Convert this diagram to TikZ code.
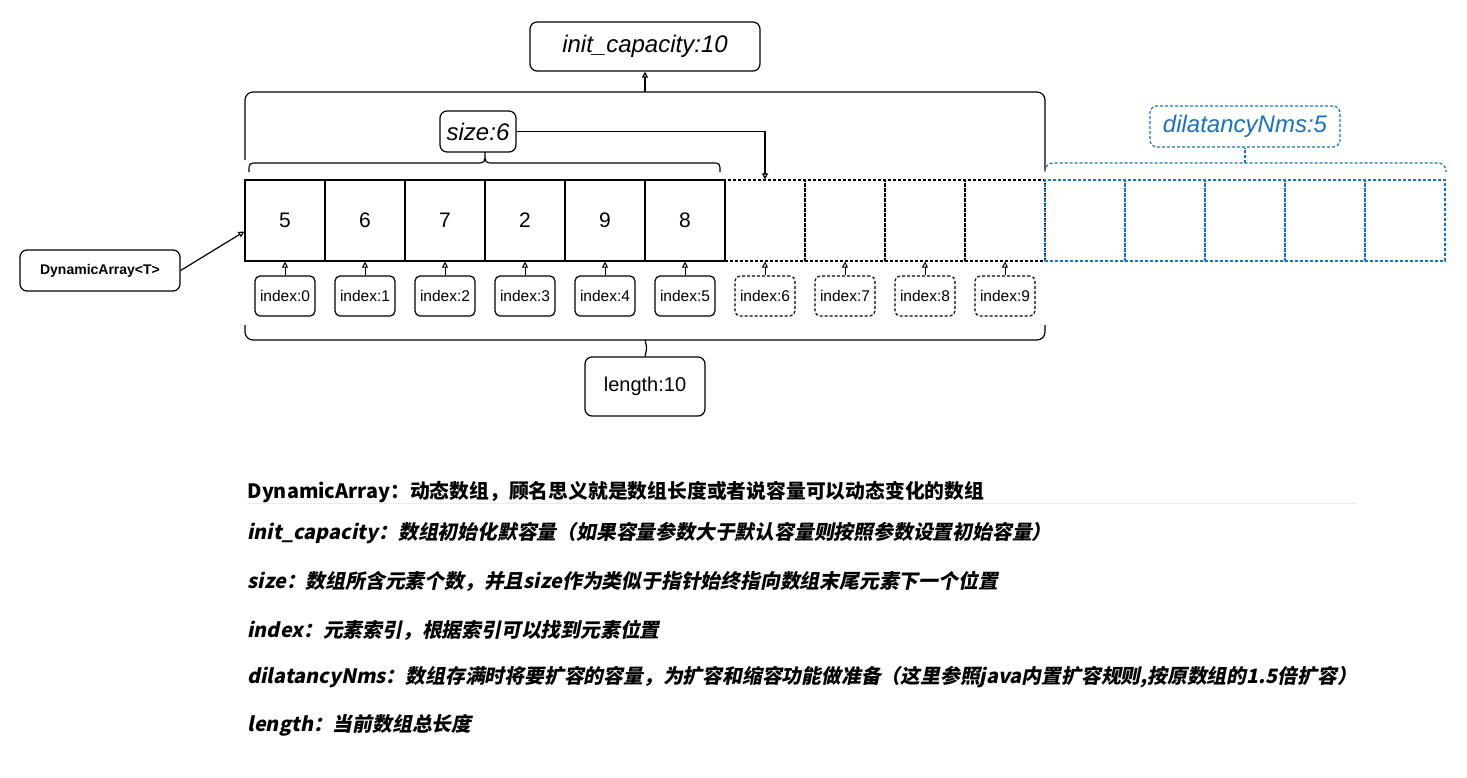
\documentclass[tikz,border=0pt]{standalone}
\usepackage{fontspec}
\setmainfont{Liberation Sans}
\newfontfamily\cjk{Noto Sans CJK SC}
\newfontfamily\cjksl{Noto Sans CJK SC}[FakeSlant=0.2]
\usetikzlibrary{arrows.meta}
\definecolor{exblue}{HTML}{1971C2}
\begin{document}
\begin{tikzpicture}[x=1pt,y=-1pt,line width=1.2pt,
  cellbox/.style={draw,minimum width=80pt,minimum height=81pt,inner sep=0pt,font=\fontsize{21}{24}\selectfont},
  celldash/.style={cellbox,line width=1.1pt,dash pattern=on 3pt off 2pt},
  cellblue/.style={cellbox,draw=exblue,line width=1.3pt,dash pattern=on 3pt off 2pt},
  idx/.style={draw,rounded corners=5pt,minimum width=60pt,minimum height=40pt,inner sep=0pt,font=\fontsize{15.5}{18}\selectfont},
  idxd/.style={idx,line width=1.1pt,dash pattern=on 3pt off 2pt},
  lbl/.style={draw,rounded corners=7pt,inner sep=0pt},
  arr/.style={-{Triangle[open,length=6pt,width=6pt]}},
  txt/.style={anchor=west,inner sep=0pt,font=\cjk\bfseries\fontsize{19.8}{22}\selectfont},
  txti/.style={anchor=west,inner sep=0pt,font=\cjksl\bfseries\fontsize{19.8}{22}\selectfont}
]
\useasboundingbox (0,0) rectangle (1467,777);

% cells
\foreach \i/\v in {0/5,1/6,2/7,3/2,4/9,5/8}
  \node[cellbox] (c\i) at (285+80*\i,220.5) {\v};
\foreach \i in {6,7,8,9}
  \node[celldash] (c\i) at (285+80*\i,220.5) {};
\foreach \i in {0,1,2,3,4}
  \node[cellblue] (b\i) at (1085+80*\i,220.5) {};

% index boxes
\foreach \i in {0,...,5}{
  \node[idx] (i\i) at (285+80*\i,296) {index:\i};
  \draw[arr,line width=1pt] (i\i.north) -- (c\i.south);
}
\foreach \i in {6,...,9}{
  \node[idxd] (i\i) at (285+80*\i,296) {index:\i};
  \draw[arr,line width=1pt] (i\i.north) -- (c\i.south);
}

% labels
\node[lbl,minimum width=230pt,minimum height=49pt,font=\itshape\fontsize{24}{28}\selectfont] (init) at (645,46.5) {init\_capacity:10};
\node[lbl,minimum width=76pt,minimum height=41pt,font=\itshape\fontsize{24}{28}\selectfont] (size) at (478,131.5) {size:6};
\node[lbl,draw=exblue,text=exblue,line width=1.2pt,dash pattern=on 3pt off 2pt,minimum width=190pt,minimum height=41pt,font=\itshape\fontsize{24}{28}\selectfont] (dilat) at (1245,126.5) {dilatancyNms:5};
\node[lbl,minimum width=120pt,minimum height=59pt,font=\fontsize{20}{24}\selectfont] (len) at (645,386.5) {length:10};
\node[lbl,minimum width=160pt,minimum height=41pt,font=\bfseries\fontsize{14}{17}\selectfont] (dyn) at (100,270.5) {DynamicArray<T>};

% braces
\draw[rounded corners=8pt] (245,160) -- (245,92) -- (1045,92) -- (1045,170);
\coordinate (capTip) at (645,92);
\draw[arr] (capTip) -- (init.south);

\coordinate (sizeTip) at (485,152);
\draw (249,172) .. controls (249,163) .. (258,163) -- (476,163) .. controls (485,163) .. (sizeTip)
      .. controls (485,163) .. (494,163) -- (711,163) .. controls (720,163) .. (720,172);

\draw[rounded corners=8pt] (245,325) -- (245,340) -- (1045,340) -- (1045,325);
\coordinate (lenTip) at (645,340);
\draw (lenTip) .. controls (647,348) .. (len.north);

\draw[exblue,line width=1.3pt,dash pattern=on 3pt off 2pt,rounded corners=8pt] (1045,172) -- (1045,163) -- (1446,163) -- (1446,172);
\coordinate (dilTip) at (1245,163);
\draw[exblue,line width=1.3pt,dash pattern=on 3pt off 2pt] (dilTip) -- (dilat.south);

% connectors
\draw[arr] (size.east) -| (c6.north);
\draw[arr] (dyn.east) -- ([yshift=-11pt]c0.west);

% description text
\node[txt] (t1) at (247,492) {DynamicArray：动态数组，顾名思义就是数组长度或者说容量可以动态变化的数组};
\draw[black!8,line width=0.8pt] (247,503) -- (1357,503);
\node[txti] (t2) at (247,533) {init\_capacity：数组初始化默容量（如果容量参数大于默认容量则按照参数设置初始容量）};
\node[txti] (t3) at (247,581) {size：数组所含元素个数，并且size作为类似于指针始终指向数组末尾元素下一个位置};
\node[txti] (t4) at (247,630) {index：元素索引，根据索引可以找到元素位置};
\node[txti] (t5) at (247,677) {dilatancyNms：数组存满时将要扩容的容量，为扩容和缩容功能做准备（这里参照java内置扩容规则,按原数组的1.5倍扩容）};
\node[txti] (t6) at (247,725) {length：当前数组总长度};
\end{tikzpicture}
\end{document}
